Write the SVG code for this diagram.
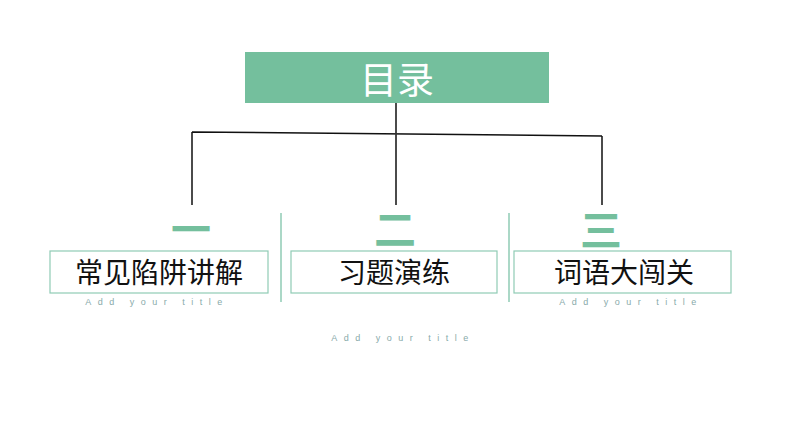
<svg xmlns="http://www.w3.org/2000/svg" width="794" height="447" viewBox="0 0 794 447">
<style>
.box{fill:none;stroke:#8fcbb5;stroke-width:1.2}
.t{font-family:"Noto Sans CJK SC","Noto Sans",sans-serif;font-size:28px;fill:#111;text-anchor:middle}
.n{font-family:"Noto Sans CJK SC",sans-serif;font-weight:bold;fill:#74bf9d;text-anchor:middle}
.s{font-family:"Liberation Sans",sans-serif;font-size:9px;letter-spacing:6.5px;fill:#8aa;text-anchor:middle}
.c{stroke:#111;stroke-width:1.5;fill:none}
.sep{stroke:#8fcbb5;stroke-width:1.5}
</style>
<rect width="794" height="447" fill="#fff"/>
<g id="title"><rect x="245" y="52" width="304" height="51" fill="#74bf9d"/>
<text x="397" y="94" font-family="Noto Sans CJK SC,sans-serif" font-size="37" fill="#fff" text-anchor="middle">目录</text></g>
<g id="connectors">
<path class="c" d="M396 103V133M192 132L602 136M192 132V205M396 134V205M602 136V205"/>
<line class="sep" x1="281" y1="213" x2="281" y2="302"/>
<line class="sep" x1="509" y1="213" x2="509" y2="302"/>
</g>
<g id="n1"><text class="n" x="191" y="244" font-size="40">一</text>
<rect class="box" x="50" y="251" width="218" height="42"/>
<text class="t" x="159" y="283">常见陷阱讲解</text>
<text class="s" x="157" y="305">Add your title</text></g>
<g id="n2"><text class="n" x="395" y="245" font-size="42">二</text>
<rect class="box" x="291" y="251" width="206" height="42"/>
<text class="t" x="394" y="283">习题演练</text></g>
<g id="n3"><text class="n" x="601" y="246" font-size="42">三</text>
<rect class="box" x="514" y="251" width="217" height="42"/>
<text class="t" x="624" y="283">词语大闯关</text>
<text class="s" x="631" y="305">Add your title</text></g>
<text class="s" x="403" y="341">Add your title</text>
</svg>
